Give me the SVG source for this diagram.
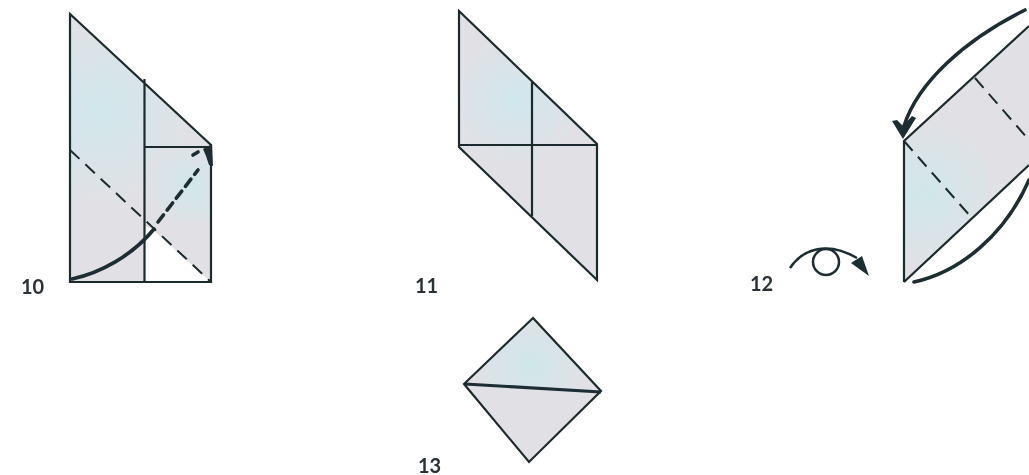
<svg xmlns="http://www.w3.org/2000/svg" width="1029" height="475" viewBox="0 0 1029 475">
<defs>
<radialGradient id="b1" gradientUnits="userSpaceOnUse" cx="100" cy="110" r="95"><stop offset="0" stop-color="#d0e7ec"/><stop offset="1" stop-color="#d0e7ec" stop-opacity="0"/></radialGradient>
<radialGradient id="b2" gradientUnits="userSpaceOnUse" cx="190" cy="185" r="42"><stop offset="0" stop-color="#d0e7ec"/><stop offset="1" stop-color="#d0e7ec" stop-opacity="0"/></radialGradient>
<radialGradient id="b3" gradientUnits="userSpaceOnUse" cx="515" cy="100" r="65"><stop offset="0" stop-color="#d0e7ee"/><stop offset="1" stop-color="#d0e7ee" stop-opacity="0"/></radialGradient>
<radialGradient id="b4" gradientUnits="userSpaceOnUse" cx="925" cy="195" r="75"><stop offset="0" stop-color="#d0e7ea"/><stop offset="1" stop-color="#d0e7ea" stop-opacity="0"/></radialGradient>
<radialGradient id="b5" gradientUnits="userSpaceOnUse" cx="530" cy="365" r="55"><stop offset="0" stop-color="#cfe7ea"/><stop offset="1" stop-color="#cfe7ea" stop-opacity="0"/></radialGradient>
<filter id="s" x="-5%" y="-5%" width="110%" height="110%"><feGaussianBlur stdDeviation="0.5"/></filter>
</defs>
<style>
.f{fill:#e1e1e5}
.e{fill:none;stroke:#1c2b2f;stroke-width:2.2}
.d{fill:none;stroke:#1c2b2f;stroke-width:2;stroke-dasharray:13 8}
.a{fill:none;stroke:#1e2d33;stroke-width:3.6;stroke-linecap:round}
.h{fill:#1e2d33;stroke:none}
.t{font-family:"Lato","Liberation Sans",sans-serif;font-size:20px;font-weight:700;fill:#2a3236}
</style>
<rect width="1029" height="475" fill="#fff"/>
<g id="step10" filter="url(#s)">
<path class="f" d="M70 14L211 145V282H70Z"/>
<path d="M70 14L211 145V282H70Z" fill="url(#b1)"/>
<path d="M70 14L211 145V282H70Z" fill="url(#b2)"/>
<path d="M145 282V226L152 229L211 282Z" fill="#fff"/>
<path class="e" d="M70 14V282H211V145ZM144.500 79V282M145 147H211"/>
<path class="d" d="M70 150L211 282"/>
<path class="a" d="M72 279C100 273 132 256 154 229"/>
<path class="a" stroke-dasharray="9 6" d="M158 222L198 170"/>
<path class="h" d="M203 149L212 144L213 166L209 165L206 156Z"/>
<path class="a" stroke-width="2.500" d="M193 155L198 152"/>
<text class="t" x="21" y="294">10</text>
</g>
<g id="step11" filter="url(#s)">
<path class="f" d="M459 11L597 144V280L459 147Z"/>
<path d="M459 11L597 144V280L459 147Z" fill="url(#b3)"/>
<path class="e" d="M459 11L597 144V280L459 147ZM459 145H597M532 82V216"/>
<text class="t" x="415" y="293">11</text>
</g>
<g id="step12" filter="url(#s)">
<path class="f" d="M904 141L1029 26V165L904 282Z"/>
<path d="M904 141L1029 26V165L904 282Z" fill="url(#b4)"/>
<path class="e" d="M904 282V141L1029 26M904 282L1029 165"/>
<path class="d" d="M904 141L971 217M975 78L1029 140"/>
<path class="a" d="M1025 10C965 40 918 82 904 126"/>
<path class="h" d="M892 121L897 120L903 126L912 116L916 118L903 139Z"/>
<path class="a" stroke-width="4" d="M914 282C960 272 1005 235 1029 180"/>
<path fill="none" stroke="#1e2d33" stroke-width="2.500" d="M790 268C802 250 826 240 857 258"/>
<circle cx="826" cy="262" r="13" fill="none" stroke="#1e2d33" stroke-width="2.500"/>
<path class="h" d="M862 256L869 276L851 263Z"/>
<text class="t" x="750" y="291">12</text>
</g>
<g id="step13" filter="url(#s)">
<path class="f" d="M533 318L601 391L529 462L464 384Z"/>
<path d="M533 318L601 391L464 384Z" fill="url(#b5)"/>
<path class="e" d="M533 318L601 391L529 462L464 384Z"/>
<path fill="none" stroke="#1e2d33" stroke-width="3.200" d="M465 384L601 392"/>
<text class="t" x="418" y="473">13</text>
</g>
</svg>
